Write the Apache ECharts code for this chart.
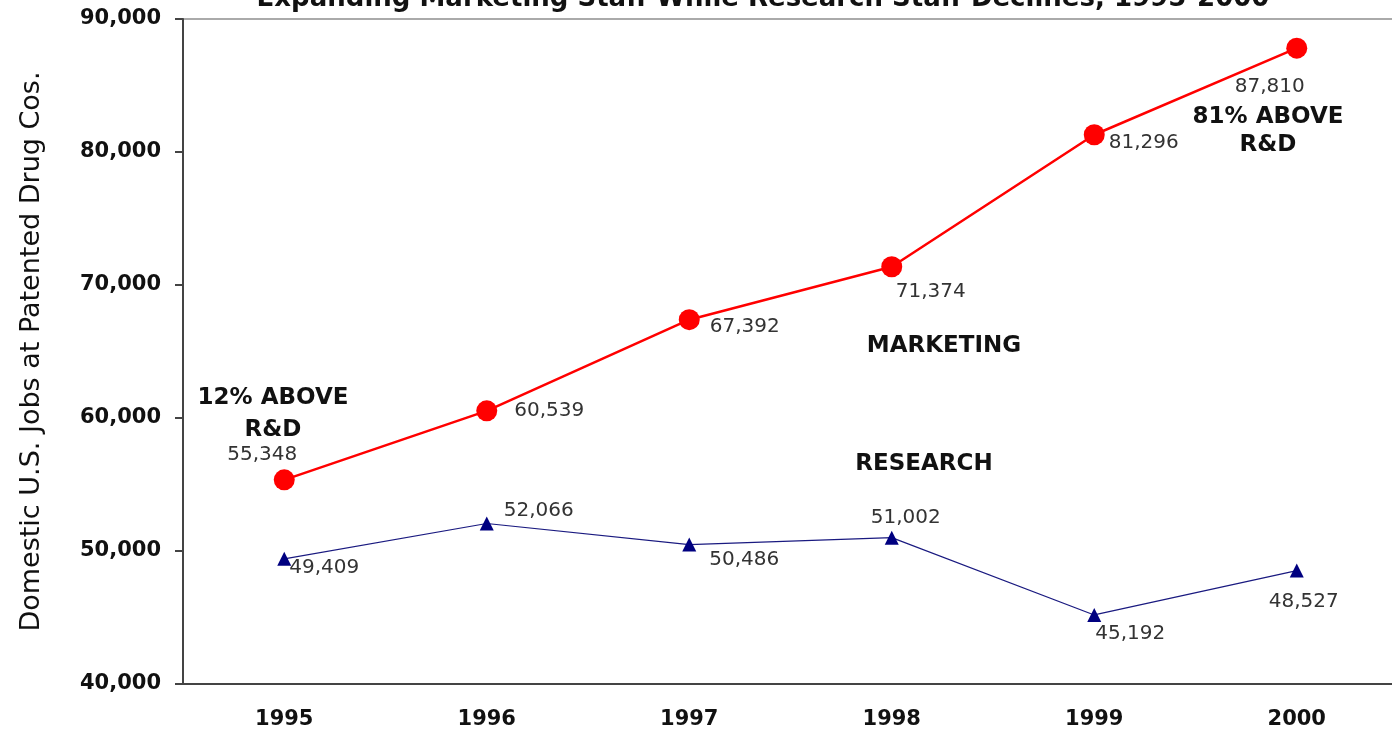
<!DOCTYPE html>
<html>
<head>
<meta charset="utf-8">
<script src="https://cdn.jsdelivr.net/npm/echarts@6/dist/echarts.min.js"></script>
<style>
  html, body { margin: 0; padding: 0; background: #fff; overflow: hidden; }
  #chart { width: 1404px; height: 735px; }
</style>
</head>
<body>
<div id="chart"></div>
<script>
// data
var years = ['1995', '1996', '1997', '1998', '1999', '2000'];
var marketing = [55348, 60539, 67392, 71374, 81296, 87810];
var research = [49409, 52066, 50486, 51002, 45192, 48527];

var chart = echarts.init(document.getElementById('chart'));

var FONT = 'DejaVu Sans';

// where each value label sits next to its point
var mktLabelPos = [
    {position: 'top', offset: [-22, 0]},
    {position: 'right', offset: [12, 0]},
    {position: 'right', offset: [5, 7]},
    {position: 'bottom', offset: [39, 0]},
    {position: 'right', offset: [-1, 8]},
    {position: 'bottom', offset: [-27, 13]}
];
var resLabelPos = [
    {position: 'right', offset: [-7, 9]},
    {position: 'right', offset: [5, -13]},
    {position: 'right', offset: [8, 15]},
    {position: 'top', offset: [14, 2]},
    {position: 'bottom', offset: [36, -3]},
    {position: 'bottom', offset: [7, 9]}
];

function withLabels(values, places) {
    return values.map(function (v, i) {
        return {value: v, label: places[i]};
    });
}

var valueLabel = {
    show: true,
    fontFamily: FONT,
    fontSize: 20,
    color: '#333',
    formatter: function (p) { return p.value.toLocaleString('en-US'); }
};

function note(txt, x, y, lh) {
    return {
        type: 'text', x: x, y: y,
        style: {
            text: txt,
            fontFamily: FONT,
            fontSize: 23,
            fontWeight: 'bold',
            fill: '#111',
            textAlign: 'center',
            textVerticalAlign: 'middle',
            lineHeight: lh
        }
    };
}

var option = {
    animation: false,
    title: {
        text: 'Expanding Marketing Staff While Research Staff Declines, 1995-2000',
        left: 758,
        textAlign: 'center',
        top: -19,
        textStyle: {
            fontFamily: FONT,
            fontSize: 26,
            fontWeight: 'bold',
            color: '#111'
        }
    },
    grid: {
        left: 183,
        top: 19,
        width: 1215,
        height: 665,
        show: true,
        borderColor: '#aaa',
        borderWidth: 2
    },
    xAxis: {
        type: 'category',
        data: years,
        boundaryGap: true,
        axisLine: {lineStyle: {color: '#444', width: 2}},
        axisTick: {show: false},
        axisLabel: {
            fontFamily: FONT,
            fontSize: 21,
            fontWeight: 'bold',
            color: '#111',
            margin: 25
        }
    },
    yAxis: {
        type: 'value',
        min: 40000,
        max: 90000,
        interval: 10000,
        name: 'Domestic U.S. Jobs at Patented Drug Cos.',
        nameLocation: 'middle',
        nameGap: 138,
        nameTextStyle: {
            fontFamily: FONT,
            fontSize: 27,
            color: '#111'
        },
        axisLine: {show: true, lineStyle: {color: '#444', width: 2}},
        axisTick: {show: true, length: 8, lineStyle: {color: '#444', width: 2}},
        splitLine: {show: false},
        axisLabel: {
            fontFamily: FONT,
            fontSize: 21,
            fontWeight: 'bold',
            color: '#111',
            margin: 22,
            formatter: function (v) { return v.toLocaleString('en-US'); }
        }
    },
    series: [
        {
            name: 'Marketing',
            type: 'line',
            data: withLabels(marketing, mktLabelPos),
            symbol: 'circle',
            symbolSize: 21,
            itemStyle: {color: '#ff0000'},
            lineStyle: {color: '#ff0000', width: 2.5},
            label: valueLabel,
            z: 3
        },
        {
            name: 'Research',
            type: 'line',
            data: withLabels(research, resLabelPos),
            symbol: 'triangle',
            symbolSize: 14,
            itemStyle: {color: '#000080'},
            lineStyle: {color: '#1a1a80', width: 1.2},
            label: valueLabel,
            z: 2
        }
    ],
    graphic: [
        note('12% ABOVE\nR&D', 273, 414, 32),
        note('MARKETING', 944, 346, 30),
        note('RESEARCH', 924, 464, 30),
        note('81% ABOVE\nR&D', 1268, 131, 28)
    ]
};

chart.setOption(option);
</script>
</body>
</html>
